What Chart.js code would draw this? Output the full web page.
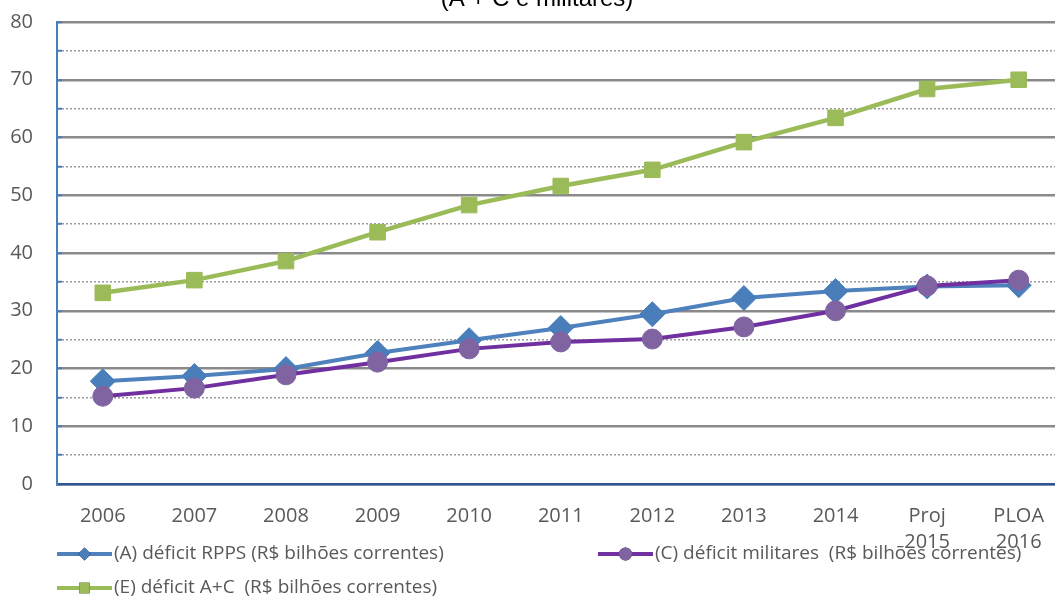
<!DOCTYPE html>
<html>
<head>
<meta charset="utf-8">
<script src="https://cdn.jsdelivr.net/npm/chart.js@4/dist/chart.umd.min.js"></script>
<style>
  html, body { margin: 0; padding: 0; background: #fff; overflow: hidden; }
  #wrap { width: 1055px; height: 598px; overflow: hidden; position: relative; }
  canvas { position: absolute; left: 0; top: 0; }
</style>
</head>
<body>
<div id="wrap"><canvas id="deficitChart" width="1078" height="598"></canvas></div>
<script>
const categories = ['2006', '2007', '2008', '2009', '2010', '2011', '2012', '2013', '2014', ['Proj', '2015'], ['PLOA', '2016']];
const deficitRPPS = [17.8, 18.7, 19.9, 22.7, 24.9, 27.0, 29.4, 32.2, 33.4, 34.2, 34.4];
const deficitMilitares = [15.2, 16.6, 18.9, 21.1, 23.4, 24.6, 25.1, 27.2, 30.0, 34.3, 35.3];
const deficitTotal = [33.1, 35.3, 38.6, 43.6, 48.3, 51.6, 54.4, 59.2, 63.4, 68.4, 70.0];
const seriesNames = [
  '(A) déficit RPPS (R$ bilhões correntes)',
  '(C) déficit militares  (R$ bilhões correntes)',
  '(E) déficit A+C  (R$ bilhões correntes)'
];
const titleText = '(A + C e militares)';

const ctx = document.getElementById('deficitChart').getContext('2d');
const textColor = '#595959';
const font = '"Open Sans", "Liberation Sans", sans-serif';

// clipped title at the very top
const titlePlugin = {
  id: 'clippedTitle',
  afterDraw(chart) {
    const c = chart.ctx;
    c.save();
    c.font = '24px "Liberation Sans", Arial, sans-serif';
    c.fillStyle = '#000';
    c.textAlign = 'center';
    c.textBaseline = 'alphabetic';
    c.fillText(titleText, 537, 6);
    c.restore();
  }
};

// legend drawn below the axis labels, line sample + marker
const legendPlugin = {
  id: 'lineLegend',
  afterDraw(chart) {
    const c = chart.ctx;
    const slots = [
      { ds: 1, x: 57, y: 554, r: 6.5 },
      { ds: 0, x: 598, y: 554, r: 6.5 },
      { ds: 2, x: 57, y: 588, r: 7.5 }
    ];
    slots.forEach(s => {
      const d = chart.data.datasets[s.ds];
      c.save();
      c.strokeStyle = d.borderColor;
      c.lineWidth = 4;
      c.beginPath();
      c.moveTo(s.x, s.y);
      c.lineTo(s.x + 55, s.y);
      c.stroke();
      Chart.helpers.drawPoint(c, { pointStyle: d.pointStyle, radius: s.r, borderWidth: 0, rotation: 0 }, s.x + 27.5, s.y);
      c.fillStyle = d.pointBackgroundColor;
      c.fill();
      c.fillStyle = textColor;
      c.font = '19px ' + font;
      c.textBaseline = 'middle';
      c.textAlign = 'left';
      c.fillText(d.label, s.x + 57, s.y);
      c.restore();
    });
  }
};

new Chart(ctx, {
  type: 'line',
  data: {
    labels: categories,
    datasets: [
      {
        label: seriesNames[1], data: deficitMilitares, order: 0,
        borderColor: '#7030a0', borderWidth: 4,
        pointStyle: 'circle', pointRadius: 10,
        pointBackgroundColor: '#8064a2', pointBorderColor: '#8064a2', pointBorderWidth: 1
      },
      {
        label: seriesNames[0], data: deficitRPPS, order: 1,
        borderColor: '#4f81bd', borderWidth: 4,
        pointStyle: 'rectRot', pointRadius: 12.5,
        pointBackgroundColor: '#4a7ebb', pointBorderColor: '#4a7ebb', pointBorderWidth: 1
      },
      {
        label: seriesNames[2], data: deficitTotal, order: 2,
        borderColor: '#9bbb59', borderWidth: 4.5,
        pointStyle: 'rect', pointRadius: 11,
        pointBackgroundColor: '#9bbb59', pointBorderColor: '#9bbb59', pointBorderWidth: 1
      }
    ]
  },
  options: {
    responsive: false,
    animation: false,
    devicePixelRatio: 1,
    layout: { padding: { top: 22, right: 6, bottom: 0, left: 0 } },
    plugins: { legend: { display: false }, tooltip: { enabled: false }, title: { display: false } },
    elements: { line: { tension: 0 } },
    scales: {
      x: {
        offset: true,
        grid: { display: false, drawTicks: false },
        border: { display: true, color: '#2f5597', width: 2.5 },
        ticks: {
          color: textColor, padding: 20, maxRotation: 0, autoSkip: false,
          font: { family: font, size: 20, lineHeight: 1.27 }
        },
        afterFit(scale) { scale.height = 114; }
      },
      y: {
        min: 0, max: 80,
        grid: {
          color: (c) => (c.tick && c.tick.value % 10 !== 0) ? '#9a9a9a' : '#8a8a8a',
          lineWidth: (c) => (c.tick && c.tick.value % 10 !== 0) ? 1.5 : 2.5,
          tickLength: -5, tickColor: '#4a7ebb', tickWidth: 2
        },
        border: {
          display: true, color: '#4a7ebb', width: 2,
          dash: (c) => (c.tick && c.tick.value % 10 !== 0) ? [2, 2] : []
        },
        ticks: {
          stepSize: 5, autoSkip: false, padding: 29, color: textColor,
          font: { family: font, size: 20 },
          callback: (v) => v % 10 === 0 ? v : ''
        },
        afterFit(scale) {
          scale.width = 57;
          scale.paddingTop = 0;
          scale.paddingBottom = 0;
        }
      }
    }
  },
  plugins: [titlePlugin, legendPlugin]
});
</script>
</body>
</html>
